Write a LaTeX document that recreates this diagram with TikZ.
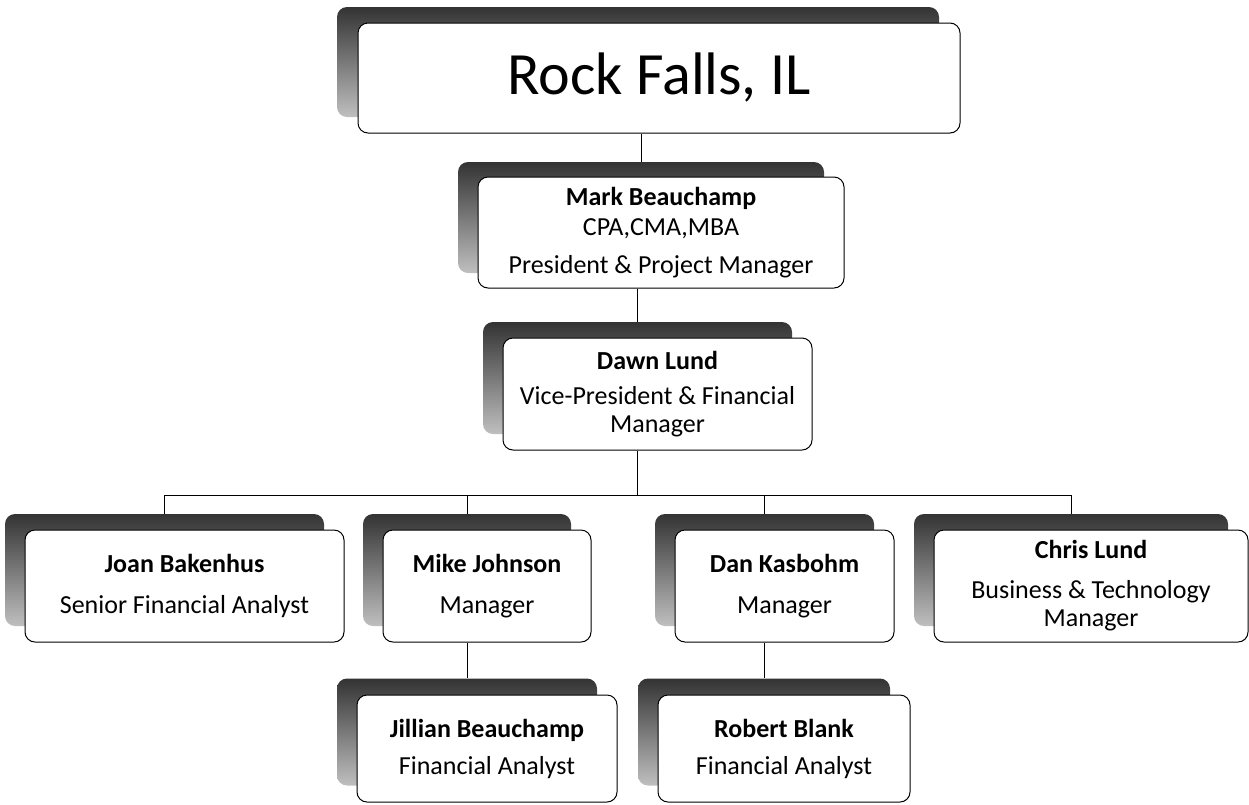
\documentclass[tikz,border=0pt]{standalone}
\usepackage{fontspec}
\setmainfont{Carlito}
\begin{document}
\begin{tikzpicture}[x=1pt,y=-1pt,
  box/.style={draw=black, line width=1pt, rounded corners=10pt, fill=white, align=center, inner sep=0pt, font=\fontsize{26}{28}\selectfont},
  shad/.style={rounded corners=10pt, top color=black!80, bottom color=black!25, draw=none, inner sep=0pt},
  link/.style={draw=black, line width=1pt}]
\useasboundingbox (0,0) rectangle (1249,804);

% Top
\node[shad, minimum width=602pt, minimum height=110pt] (rocks) at (638,62) {};
\node[box, minimum width=602pt, minimum height=110pt, font=\fontsize{60}{64}\selectfont] (rock) at (659,78) {Rock Falls, IL};

\node[shad, minimum width=366pt, minimum height=111pt] (marks) at (641,217.5) {};
\node[box, minimum width=366pt, minimum height=111pt] (mark) at (661,232.5) {\textbf{Mark Beauchamp}\\[2pt] CPA,CMA,MBA\\[10pt] President \& Project Manager};

\node[shad, minimum width=309pt, minimum height=112pt] (dawns) at (637.5,378) {};
\node[box, minimum width=309pt, minimum height=112pt] (dawn) at (657.5,394) {\textbf{Dawn Lund}\\[7pt] Vice-President \& Financial\\ Manager};

% Middle row
\node[shad, minimum width=319pt, minimum height=112pt] (joans) at (164.5,570) {};
\node[box, minimum width=319pt, minimum height=112pt] (joan) at (184.5,586) {\textbf{Joan Bakenhus}\\[13pt] Senior Financial Analyst};

\node[shad, minimum width=208pt, minimum height=112pt] (mikes) at (467,570) {};
\node[box, minimum width=208pt, minimum height=112pt] (mike) at (487,586) {\textbf{Mike Johnson}\\[13pt] Manager};

\node[shad, minimum width=219pt, minimum height=112pt] (dans) at (764.5,570) {};
\node[box, minimum width=219pt, minimum height=112pt] (dan) at (784.5,586) {\textbf{Dan Kasbohm}\\[13pt] Manager};

\node[shad, minimum width=314pt, minimum height=112pt] (chriss) at (1071,570) {};
\node[box, minimum width=314pt, minimum height=112pt] (chris) at (1091,586) {\textbf{Chris Lund}\\[12pt] Business \& Technology\\ Manager};

% Bottom row
\node[shad, minimum width=260pt, minimum height=107pt] (jills) at (467,732) {};
\node[box, minimum width=260pt, minimum height=107pt] (jill) at (487,748.5) {\textbf{Jillian Beauchamp}\\[9pt] Financial Analyst};

\node[shad, minimum width=252pt, minimum height=107pt] (roberts) at (764,732) {};
\node[box, minimum width=252pt, minimum height=107pt] (robert) at (784,748.5) {\textbf{Robert Blank}\\[9pt] Financial Analyst};

% Connectors
\coordinate (bus) at (637.5,495);
\draw[link] (marks.north |- rock.south) -- (marks.north);
\draw[link] (dawns.north |- mark.south) -- (dawns.north);
\draw[link] (dawns.north |- dawn.south) -- (bus);
\draw[link] (joans.north |- bus) -- (chriss.north |- bus);
\foreach \s in {joans, mikes, dans, chriss} \draw[link] (\s.north |- bus) -- (\s.north);
\draw[link] (jills.north |- mike.south) -- (jills.north);
\draw[link] (roberts.north |- dan.south) -- (roberts.north);
\end{tikzpicture}
\end{document}
